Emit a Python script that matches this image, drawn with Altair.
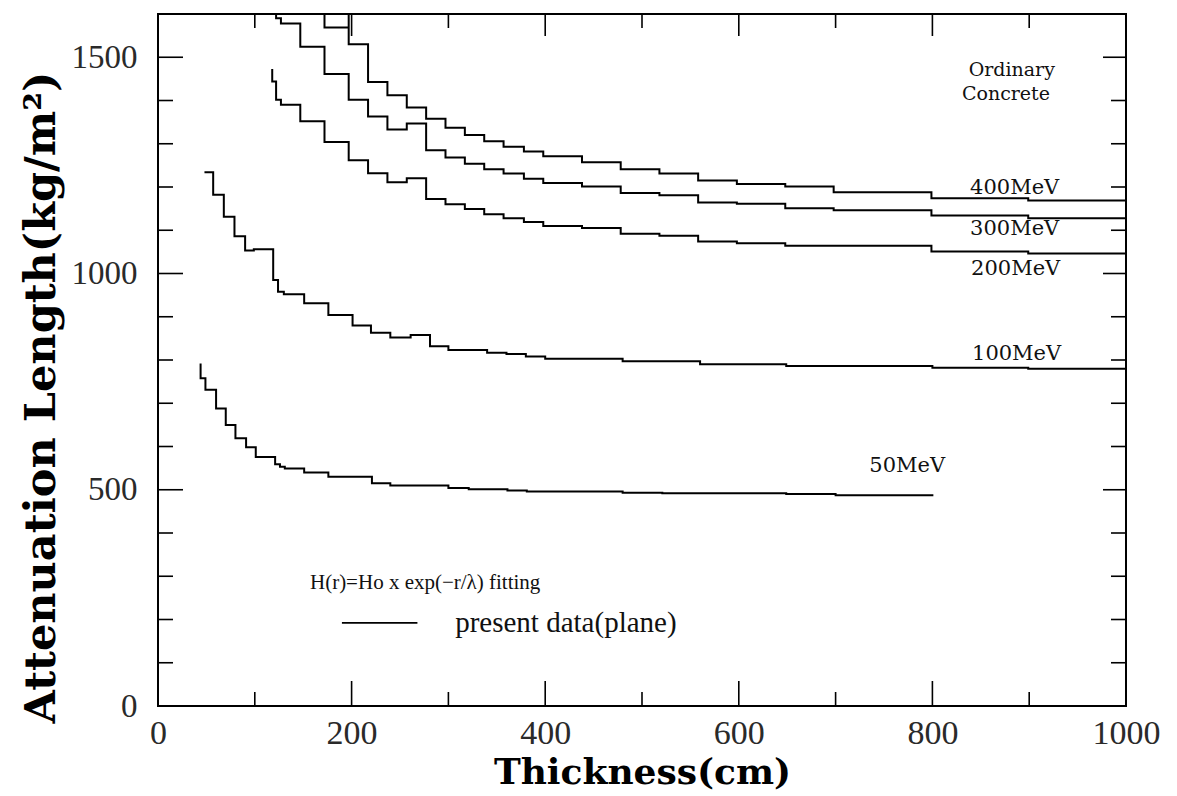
import altair as alt
import pandas as pd

# ---------------- data ----------------
# step curves: x = start of each step (cm), v = attenuation length held from there (kg/m^2)
x400 = [172, 172, 197, 197, 217, 237, 257, 277, 297, 317, 337, 357, 378, 398, 438, 478, 518, 558, 598, 648, 698, 799, 899]
v400 = [1650, 1569, 1650, 1530, 1443, 1412, 1384, 1358, 1337, 1320, 1306, 1293, 1282, 1271, 1257, 1241, 1231, 1215, 1207, 1201, 1188, 1174, 1169]
end400 = 1000

x300 = [122, 122, 127, 147, 172, 197, 217, 237, 257, 277, 297, 317, 337, 357, 378, 398, 438, 478, 518, 558, 598, 648, 698, 799, 899]
v300 = [1650, 1590, 1578, 1524, 1461, 1402, 1363, 1333, 1347, 1285, 1268, 1254, 1241, 1231, 1219, 1209, 1201, 1186, 1181, 1164, 1161, 1151, 1146, 1134, 1128]
end300 = 1000

x200 = [118, 118, 122, 127, 147, 172, 197, 217, 237, 257, 277, 297, 317, 337, 357, 378, 398, 438, 478, 518, 558, 598, 648, 799, 899]
v200 = [1473, 1444, 1402, 1390, 1352, 1304, 1262, 1232, 1211, 1220, 1172, 1160, 1149, 1137, 1128, 1119, 1110, 1105, 1092, 1087, 1074, 1070, 1064, 1051, 1046]
end200 = 1000

x100 = [48, 57, 68, 79, 90, 99, 119, 124, 130, 151, 176, 201, 220, 240, 261, 281, 300, 340, 360, 380, 400, 480, 560, 649, 800, 899]
v100 = [1234, 1182, 1131, 1086, 1053, 1056, 985, 958, 952, 931, 904, 880, 863, 852, 858, 832, 823, 817, 814, 808, 803, 797, 790, 786, 782, 780]
end100 = 1000

x50 = [44, 44, 49, 60, 70, 80, 91, 101, 121, 126, 131, 151, 176, 221, 240, 300, 321, 361, 381, 480, 521, 649, 700]
v50 = [792, 758, 731, 688, 650, 619, 598, 576, 559, 553, 549, 540, 530, 515, 510, 504, 501, 498, 496, 493, 492, 490, 487]
end50 = 801

x_tick_labels = [0, 200, 400, 600, 800, 1000]
y_tick_labels = [0, 500, 1000, 1500]
x_minor = [100, 200, 300, 400, 500, 600, 700, 800, 900]
y_minor = [100, 200, 300, 400, 500, 600, 700, 800, 900, 1000, 1100, 1200, 1300, 1400, 1500]

curve_labels = ["Ordinary", "Concrete", "400MeV", "300MeV", "200MeV", "100MeV", "50MeV"]

# ---------------- layout constants ----------------
W, H = 968, 692
XMAX, YMAX = 1000, 1600
PX_X = W / XMAX
PX_Y = H / YMAX
SERIF = "Liberation Serif"
SERIF2 = "DejaVu Serif"


def step_rows(name, xs, vs, x_end):
    rows = []
    n = len(xs)
    k = 0
    for i in range(n):
        x_next = xs[i + 1] if i + 1 < n else x_end
        rows.append({"series": name, "x": xs[i], "y": vs[i], "o": k}); k += 1
        rows.append({"series": name, "x": x_next, "y": vs[i], "o": k}); k += 1
    return rows


rows = []
rows += step_rows("400MeV", x400, v400, end400)
rows += step_rows("300MeV", x300, v300, end300)
rows += step_rows("200MeV", x200, v200, end200)
rows += step_rows("100MeV", x100, v100, end100)
rows += step_rows("50MeV", x50, v50, end50)
curves = pd.DataFrame(rows)

# inner tick marks on all four sides
tick_rows = []
for v in y_minor:
    major = v % 500 == 0
    L = 25 if major else 15
    R = 23 if major else 15
    tick_rows.append({"x": 0, "x2": L / PX_X, "y": v, "y2": v})
    tick_rows.append({"x": XMAX - R / PX_X, "x2": XMAX, "y": v, "y2": v})
for v in x_minor:
    major = v % 200 == 0
    B = 25 if major else 14
    T = 22 if major else 14
    tick_rows.append({"x": v, "x2": v, "y": 0, "y2": B / PX_Y})
    tick_rows.append({"x": v, "x2": v, "y": YMAX - T / PX_Y, "y2": YMAX})
ticks = pd.DataFrame(tick_rows)

xscale = alt.Scale(domain=[0, XMAX], nice=False, zero=False)
yscale = alt.Scale(domain=[0, YMAX], nice=False, zero=False)

x_axis = alt.Axis(
    values=x_tick_labels, format="d", grid=False, domain=False, ticks=False, tickSize=0,
    labelFont=SERIF, labelFontSize=34, labelColor="#2a2a2a", labelPadding=37,
    labelBaseline="alphabetic", labelFlush=False, labelOverlap=False,
    title="Thickness(cm)", titleFont=SERIF2, titleFontSize=36, titleFontWeight="bold",
    titleColor="black", titleX=W / 2, titleY=77, titleAlign="center", titleBaseline="alphabetic",
)
y_axis = alt.Axis(
    values=y_tick_labels, format="d", grid=False, domain=False, ticks=False, tickSize=0,
    labelFont=SERIF, labelFontSize=33, labelColor="#2a2a2a", labelPadding=21,
    labelBaseline="middle", labelFlush=False, labelOverlap=False,
    title="Attenuation Length(kg/m²)", titleFont=SERIF2, titleFontSize=43, titleFontWeight="bold",
    titleColor="black", titleAngle=270, titleX=-117, titleY=383, titleAlign="center", titleBaseline="middle",
)


def X(field):
    return alt.X(field, scale=xscale, axis=x_axis)


def Y(field):
    return alt.Y(field, scale=yscale, axis=y_axis)


lines = alt.Chart(curves).mark_line(color="black", strokeWidth=2, clip=True).encode(
    x=X("x:Q"),
    y=Y("y:Q"),
    detail="series:N",
    order="o:Q",
)

tick_layer = alt.Chart(ticks).mark_rule(color="black", strokeWidth=1.6).encode(
    x=X("x:Q"),
    x2="x2:Q",
    y=Y("y:Q"),
    y2="y2:Q",
)

# annotation positions (data units)
lab_x = [882, 876, 885, 885, 886, 887, 774]
lab_y = [1470, 1415, 1197, 1102, 1010, 813, 556]
lab_size = [19, 19, 21, 21, 21, 21, 21]
labels_df = pd.DataFrame({"t": curve_labels, "x": lab_x, "y": lab_y, "s": lab_size})

label_layer = alt.Chart(labels_df).mark_text(
    font=SERIF2, color="#111", align="center", baseline="middle"
).encode(
    x=X("x:Q"),
    y=Y("y:Q"),
    text="t:N",
    size=alt.Size("s:Q", scale=None, legend=None),
)

legend_text = pd.DataFrame({
    "t": ["H(r)=Ho x exp(\u2212r/\u03bb) fitting", "present data(plane)"],
    "x": [157, 307],
    "y": [284, 192],
    "s": [21, 29],
})
legend_layer = alt.Chart(legend_text).mark_text(
    font=SERIF, color="#111", align="left", baseline="middle"
).encode(
    x=X("x:Q"),
    y=Y("y:Q"),
    text="t:N",
    size=alt.Size("s:Q", scale=None, legend=None),
)

legend_line = alt.Chart(pd.DataFrame({"x": [190], "x2": [268], "y": [192]})).mark_rule(
    color="black", strokeWidth=1.8
).encode(
    x=X("x:Q"),
    x2="x2:Q",
    y=Y("y:Q"),
)

chart = alt.layer(lines, tick_layer, label_layer, legend_layer, legend_line).properties(
    width=W, height=H,
    autosize=alt.AutoSizeParams(type="none"),
    padding={"left": 158, "top": 14, "right": 51, "bottom": 90},
    background="white",
).configure_view(stroke="black", strokeWidth=2)

chart.save("out.html", embed_options={"renderer": "svg", "actions": False})
